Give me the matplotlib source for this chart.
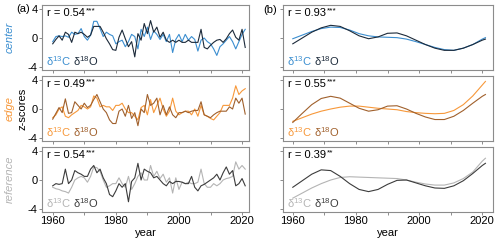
import numpy as np
import matplotlib
matplotlib.use("Agg")
import matplotlib.pyplot as plt

plt.rcParams['font.family'] = ['Liberation Sans', 'DejaVu Sans']
plt.rcParams['mathtext.fontset'] = 'custom'
plt.rcParams['mathtext.rm'] = 'Liberation Sans'
plt.rcParams['mathtext.it'] = 'Liberation Sans:italic'

# --- data -----------------------------------------------------------------
years = np.arange(1960, 2022)

center_c13 = [-0.5, 0.2, 0.3, 0.2, 0.3, 0.1, 0.8, 0.5, 0.6, 1.3,
              0.2, -0.3, 0.4, 2.3, 2.3, 1.3, 0.2, 0.8, 0.5, 0.3,
              -0.8, -0.5, -0.3, -1.2, -0.5, 0.5, 0.2, -1.5, 1.2, 0.2,
              1.5, -0.2, 1.0, 0.5, -0.2, 0.5, -0.5, 0.5, -2.0, -0.2,
              0.5, -0.5, 0.5, -0.3, 0.2, -0.2, -1.8, -0.3, 0.0, -0.5,
              -0.8, -1.5, -2.4, -1.2, -0.8, -0.3, 0.2, -0.5, -1.5, -0.5,
              0.5, 1.2]
center_o18 = [-0.8, -0.2, 0.3, -0.3, 0.8, 0.5, -0.6, 0.8, 0.6, 0.8,
              0.5, 0.1, 0.4, 1.6, 1.6, 1.6, 0.8, -0.1, -0.8, -1.6,
              -1.7, 0.1, 1.1, -0.1, -1.2, -0.5, -2.6, 0.6, -0.3, 2.0,
              0.6, 2.4, 0.8, 1.5, 0.1, 0.8, -0.3, -0.6, -0.3, -0.6,
              -0.3, -0.6, -0.6, -0.3, -0.6, -0.6, -0.6, 1.2, -1.3, -1.5,
              -1.0, -0.6, -0.3, -0.2, -0.6, -0.1, 0.6, 1.1, 0.1, -0.3,
              1.2, -1.3]

edge_c13 = [-1.2, -0.8, 0.0, 0.3, -1.0, -1.2, -0.8, -0.5, -0.2, 0.5,
            0.3, 0.0, 0.3, 1.8, 1.5, 0.3, 0.5, 0.3, 0.3, -0.2,
            0.5, 0.5, 0.8, 0.0, -0.5, -0.5, -1.0, -1.5, 0.2, 0.5,
            -0.8, 1.3, -0.5, 0.5, 1.5, 0.0, -1.0, -0.3, 1.5, -0.3,
            -0.8, -0.5, -0.3, -0.3, -0.8, 0.0, -1.0, 0.5, -0.8, -1.0,
            -1.3, -1.5, -1.0, -0.5, 0.5, 0.5, 0.5, 1.5, 3.2, 2.0,
            2.5, 2.8]
edge_o18 = [-1.4, -0.6, 0.2, -0.5, 1.4, -0.6, -0.5, 1.0, 0.5, 0.0,
            0.8, 0.2, 0.5, 1.3, 2.0, 1.0, 0.0, -0.5, -1.5, -2.0,
            -2.0, -0.3, 0.0, -1.0, 0.5, -1.3, -0.5, -2.3, 0.0, -0.5,
            2.0, 0.5, 0.8, 1.5, -0.8, 0.5, -0.8, 0.3, -0.8, -1.2,
            -0.5, -0.5, -0.3, -0.5, -0.3, -0.2, -0.2, 1.0, -0.8, -1.0,
            -1.2, -0.8, -0.5, -0.3, -0.3, -0.3, 0.3, 0.0, 1.5, 0.8,
            1.5, -0.7]

ref_c13 = [-1.0, -1.2, -1.3, -1.5, -1.6, -1.8, -1.0, 0.0, 0.3, 0.5,
           0.3, -0.3, 0.5, 1.8, 1.7, 1.2, 0.0, -1.0, -0.8, -0.5,
           -0.5, 0.3, -0.5, -1.0, 0.5, -1.3, -0.5, 0.5, 1.0, 0.0,
           0.0, 2.0, 0.5, 1.2, 0.2, 0.8, -0.3, 0.3, -1.8, 0.3,
           -1.3, -0.3, -0.5, -0.3, -0.5, -0.5, -0.3, 1.5, -0.5, -1.0,
           -1.0, -0.5, -0.8, -0.5, 0.0, 0.2, 0.3, 0.5, 2.5, 1.5,
           2.0, 1.5]
ref_o18 = [-0.8, -0.5, -0.6, -0.5, 1.5, -0.5, 0.0, 1.3, 1.0, 0.8,
           0.5, 0.5, 1.5, 2.0, 1.0, 1.5, 0.3, -0.5, -2.0, -2.3,
           -1.5, -0.5, -1.0, -0.5, -3.0, -0.2, 0.3, 2.3, 0.0, 1.5,
           1.2, 1.0, 0.3, 0.5, 0.0, -0.5, -0.8, -0.2, -0.5, -0.2,
           -0.2, -0.3, -0.5, -0.5, 0.5, -1.0, -1.5, -0.8, -0.6, -0.3,
           0.0, 0.3, 0.8, 0.0, 1.0, 1.8, 0.8, 1.3, -0.8, -0.5,
           0.2, -0.8]

# smoothed trends, read every 3 years (+2021)
smooth_years = [1960, 1963, 1966, 1969, 1972, 1975, 1978, 1981, 1984, 1987, 1990,
                1993, 1996, 1999, 2002, 2005, 2008, 2011, 2014, 2017, 2020, 2021]
center_c13_s = [-0.1, 0.4, 0.9, 1.3, 1.5, 1.45, 1.1, 0.6, 0.3, 0.15, 0.1,
                0.05, -0.15, -0.5, -0.9, -1.3, -1.6, -1.7, -1.4, -0.9, -0.15, 0.05]
center_o18_s = [-0.8, 0.0, 0.8, 1.4, 1.75, 1.6, 1.0, 0.3, -0.1, 0.15, 0.65,
                0.7, 0.3, -0.3, -0.9, -1.4, -1.7, -1.7, -1.4, -0.9, -0.3, -0.15]
edge_c13_s = [-1.7, -1.2, -0.7, -0.3, 0.0, 0.25, 0.4, 0.4, 0.25, 0.1, 0.0,
              -0.1, -0.35, -0.5, -0.6, -0.65, -0.6, -0.2, 0.6, 1.8, 3.3, 3.8]
edge_o18_s = [-1.85, -0.6, 0.6, 1.45, 1.75, 1.5, 0.8, 0.1, -0.3, -0.1, 0.4,
              0.45, 0.0, -0.6, -1.1, -1.45, -1.45, -1.0, -0.2, 0.8, 1.75, 2.0]
ref_c13_s = [-2.5, -1.8, -1.1, -0.5, 0.0, 0.35, 0.45, 0.4, 0.35, 0.3, 0.25,
             0.2, 0.0, -0.3, -0.55, -0.7, -0.7, -0.4, 0.2, 1.1, 2.6, 3.0]
ref_o18_s = [-1.0, -0.1, 0.8, 1.4, 1.3, 0.5, -0.5, -1.3, -1.6, -1.3, -0.6,
             -0.05, 0.0, -0.4, -0.8, -1.1, -1.15, -0.8, -0.1, 0.9, 2.0, 2.3]

sites = ['center', 'edge', 'reference']
r_raw = ['0.54', '0.49', '0.54']
r_raw_sig = ['***', '***', '***']
r_smooth = ['0.93', '0.55', '0.39']
r_smooth_sig = ['***', '***', '**']
c13_colors = ['#3b8ed0', '#f7983a', '#b4b4b4']
o18_colors = ['#1c2a3a', '#a0602c', '#3c3c3c']

raw = [(center_c13, center_o18), (edge_c13, edge_o18), (ref_c13, ref_o18)]
smooth = [(center_c13_s, center_o18_s), (edge_c13_s, edge_o18_s), (ref_c13_s, ref_o18_s)]

# --- figure ---------------------------------------------------------------
fig = plt.figure(figsize=(5.0, 2.46), dpi=100)
H = 65 / 246
bottoms = [1 - 70 / 246, 1 - 141 / 246, 1 - 212 / 246]
grey = '#8c8c8c'


def style(ax, xlim, left_labels):
    ax.set_xlim(*xlim)
    ax.set_ylim(-4.41, 4.55)
    ax.set_xticks(np.arange(1960, 2021, 10))
    ax.set_xticklabels([])
    ax.set_yticks([-4, 0, 4])
    if left_labels:
        ax.set_yticklabels(['-4', '0', '4'])
    else:
        ax.set_yticklabels([])
    for s in ax.spines.values():
        s.set_color(grey)
        s.set_linewidth(0.8)
    ax.tick_params(length=2, width=0.7, color=grey, labelsize=8, pad=1)


def annotate_panel(ax, r, sig, i):
    t = ax.text(0.025, 0.96, 'r = ' + r, transform=ax.transAxes,
                ha='left', va='top', fontsize=8)
    ax.annotate(sig, xy=(1, 1), xycoords=t, xytext=(0.5, 0.5),
                textcoords='offset points', ha='left', va='top', fontsize=6)
    t1 = ax.text(0.02, 0.03, 'δ$^{13}$C', color=c13_colors[i],
                 transform=ax.transAxes, ha='left', va='bottom', fontsize=8)
    ax.annotate('δ$^{18}$O', xy=(1, 0), xycoords=t1, xytext=(1.5, 0),
                textcoords='offset points', ha='left', va='bottom',
                color=o18_colors[i], fontsize=8)


for i in range(3):
    axl = fig.add_axes([42 / 500, bottoms[i], 207 / 500, H])
    axr = fig.add_axes([283 / 500, bottoms[i], 210 / 500, H])
    style(axl, (1956.6, 2022.2), True)
    style(axr, (1956.9, 2023.4), False)

    c13, o18 = raw[i]
    axl.plot(years, c13, color=c13_colors[i], lw=0.8)
    axl.plot(years, o18, color=o18_colors[i], lw=0.8)
    c13s, o18s = smooth[i]
    axr.plot(smooth_years, c13s, color=c13_colors[i], lw=0.8)
    axr.plot(smooth_years, o18s, color=o18_colors[i], lw=0.8)

    annotate_panel(axl, r_raw[i], r_raw_sig[i], i)
    annotate_panel(axr, r_smooth[i], r_smooth_sig[i], i)

    fig.text(10 / 500, bottoms[i] + H / 2, sites[i], rotation=90, style='italic',
             color=c13_colors[i], ha='center', va='center', fontsize=8)

    if i == 2:
        axl.set_xticklabels(['1960', '', '1980', '', '2000', '', '2020'])
        axr.set_xticklabels(['1960', '', '1980', '', '2000', '', '2020'])
        axl.set_xlabel('year', fontsize=8, labelpad=1)
        axr.set_xlabel('year', fontsize=8, labelpad=1)

fig.text(23 / 500, bottoms[1] + H / 2, 'z-scores', rotation=90,
         ha='center', va='center', fontsize=8)
fig.text(16 / 500, 1 - 9 / 246, '(a)', ha='left', va='center', fontsize=8)
fig.text(263 / 500, 1 - 10 / 246, '(b)', ha='left', va='center', fontsize=8)

fig.savefig('out.png', dpi=100)
